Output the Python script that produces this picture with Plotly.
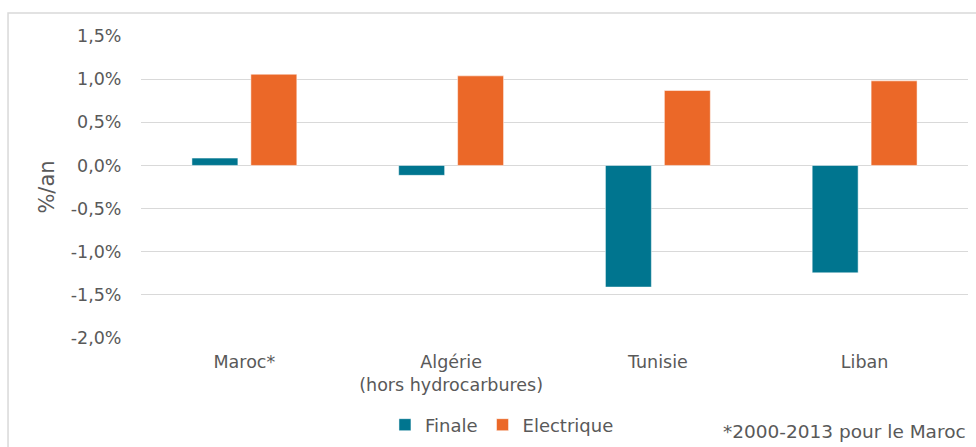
import plotly.graph_objects as go

# Taux de croissance annuel moyen de la consommation (%/an)
pays = ["Maroc*", "Algérie<br>(hors hydrocarbures)", "Tunisie", "Liban"]
finale = [0.085, -0.115, -1.41, -1.245]
electrique = [1.057, 1.038, 0.868, 0.98]

y_ticks = [-2.0, -1.5, -1.0, -0.5, 0.0, 0.5, 1.0, 1.5]
y_ticktext = ["-2,0%", "-1,5%", "-1,0%", "-0,5%", "0,0%", "0,5%", "1,0%", "1,5%"]

note = "*2000-2013 pour le Maroc"

TEAL = "#00758F"
ORANGE = "#EB6828"
TEXT = "#595959"
GRID = "#d9d9d9"
FONT = "DejaVu Sans, Verdana, sans-serif"

fig = go.Figure()
fig.add_trace(go.Bar(
    name="Finale", x=pays, y=finale,
    marker=dict(color=TEAL, line=dict(color="rgba(255,255,255,0.5)", width=1)),
))
fig.add_trace(go.Bar(
    name="Electrique", x=pays, y=electrique,
    marker=dict(color=ORANGE, line=dict(color="rgba(255,255,255,0.5)", width=1)),
))

fig.update_layout(
    width=976, height=447,
    margin=dict(l=141, r=8, t=36, b=109, autoexpand=False),
    paper_bgcolor="white", plot_bgcolor="white",
    font=dict(family=FONT, size=17.5, color=TEXT),
    barmode="group", bargap=0.43, bargroupgap=0.22,
    showlegend=True,
    legend=dict(
        orientation="h", x=0.295, xanchor="left", y=-0.288, yanchor="middle",
        font=dict(size=18, color=TEXT), itemwidth=30, tracegroupgap=0,
        bgcolor="rgba(0,0,0,0)",
    ),
    annotations=[dict(
        text=note, xref="paper", yref="paper", x=1.0, y=-0.308,
        xanchor="right", yanchor="middle", showarrow=False,
        font=dict(size=18.5, color=TEXT),
    )],
    shapes=[dict(
        type="rect", xref="paper", yref="paper",
        x0=-0.1608, x1=1.0145, y0=-0.404, y1=1.0762,
        line=dict(color=GRID, width=1.5), fillcolor="rgba(0,0,0,0)", layer="below",
    )],
)

fig.update_xaxes(
    showgrid=False, showline=False, zeroline=False, automargin=False,
    ticks="outside", ticklen=8, tickcolor="rgba(0,0,0,0)",
    tickfont=dict(size=17.5, color=TEXT),
)
fig.update_yaxes(
    range=[-2.0, 1.5], tickvals=y_ticks, ticktext=y_ticktext, automargin=False,
    showgrid=True, gridcolor=GRID, gridwidth=1,
    zeroline=True, zerolinecolor=GRID, zerolinewidth=1,
    showline=False, ticks="outside", ticklen=15, tickcolor="rgba(0,0,0,0)",
    tickfont=dict(size=17.5, color=TEXT),
    title=dict(text="%/an", standoff=10, font=dict(size=21, color=TEXT)),
)

fig.write_html("out.html")
